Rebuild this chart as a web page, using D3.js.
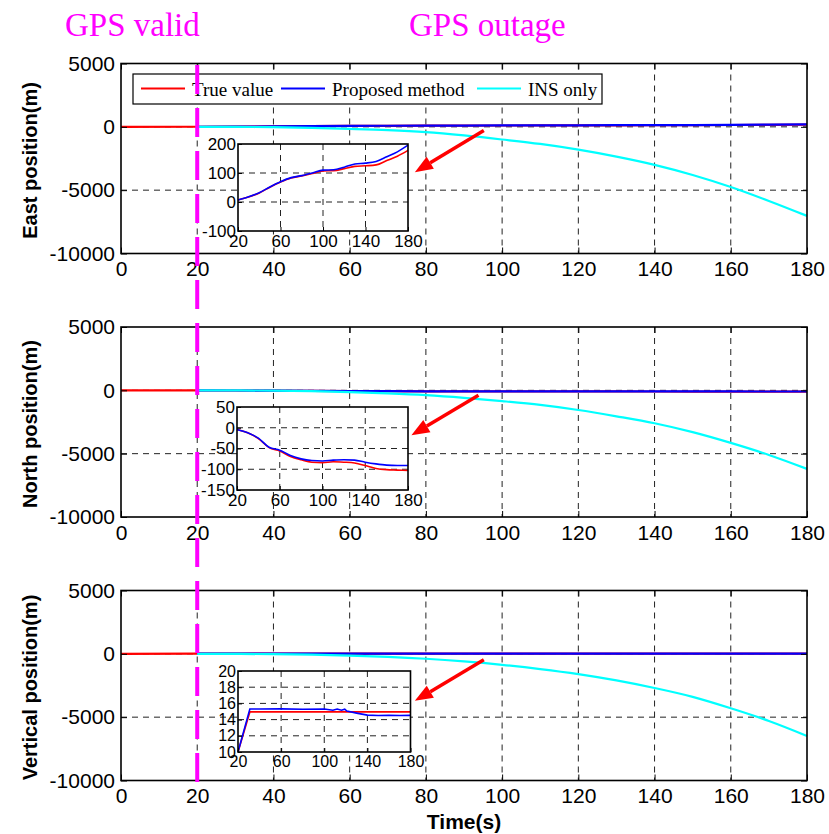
<!DOCTYPE html>
<html>
<head>
<meta charset="utf-8">
<script src="https://cdn.jsdelivr.net/npm/d3@7"></script>
<style>
  html, body { margin: 0; padding: 0; background: #fff; }
  svg { display: block; }
</style>
</head>
<body>
<svg id="chart" width="829" height="834"></svg>
<script>
// ---- data -------------------------------------------------------------
const mainTicksX = [0, 20, 40, 60, 80, 100, 120, 140, 160, 180];
const mainTicksY = [5000, 0, -5000, -10000];
const insetTicksX = [20, 60, 100, 140, 180];

// Time grid (s) during the GPS outage
const tOutage = [20, 30, 40, 50, 60, 70, 80, 90, 100, 110, 120, 130, 140, 150, 160, 170, 180];

// East position (m)
const eastTrue     = [7, 17, 31, 51, 69, 83, 90, 98, 107, 108, 115, 123, 125, 128, 143, 158, 178];
const eastProposed = [7, 18, 32, 52, 70, 84, 91, 100, 110, 111, 120, 131, 134, 140, 156, 173, 196];
const eastINS      = [0, -5, -30, -80, -160, -260, -420, -680, -1000, -1350, -1800, -2350, -3000, -3800, -4750, -5850, -7030];

// North position (m)
const northTrue     = [-4, -12, -26, -48, -56, -69, -77, -83, -84, -82, -83, -85, -91, -98, -101, -102, -103];
const northProposed = [-4, -12, -25, -47, -54, -67, -75, -79, -80, -78, -77, -78, -83, -87, -90, -91, -91];
const northINS      = [0, -5, -25, -70, -140, -240, -380, -590, -850, -1150, -1550, -2050, -2600, -3300, -4150, -5100, -6200];

// Vertical position (m)
const tVertical        = [20, 31, 40, 60, 80, 100, 108, 112, 116, 119, 121, 130, 140, 150, 160, 170, 180];
const verticalTrue     = [10, 14.95, 14.95, 14.95, 14.95, 14.95, 14.95, 14.95, 14.95, 14.95, 14.95, 14.95, 14.95, 14.95, 14.95, 14.95, 14.95];
const verticalProposed = [10, 15.3, 15.3, 15.32, 15.28, 15.3, 15.15, 15.3, 15.15, 15.28, 15.05, 14.8, 14.55, 14.5, 14.52, 14.5, 14.52];
const verticalINS      = [0, -5, -25, -70, -140, -240, -390, -600, -870, -1200, -1600, -2100, -2700, -3400, -4300, -5300, -6480];

// Legend entries
const legendLabels = ["True value", "Proposed method", "INS only"];
const legendColors = ["#ff0000", "#0000ff", "#00ffff"];

// Panel definitions
const panels = [
  { label: "East position(m)", tTrue: tOutage, trueV: eastTrue, propV: eastProposed, ins: eastINS,
    inset: { domain: [-100, 200], ticks: [200, 100, 0, -100], grid: [100, 0], font: 17 },
    arrow: { from: [95.2, -292], to: [77.1, -3577] } },
  { label: "North position(m)", tTrue: tOutage, trueV: northTrue, propV: northProposed, ins: northINS,
    inset: { domain: [-150, 50], ticks: [50, 0, -50, -100, -150], grid: [0, -50, -100], font: 17 },
    arrow: { from: [93.8, -395], to: [76.2, -3553] } },
  { label: "Vertical position(m)", tTrue: tVertical, trueV: verticalTrue, propV: verticalProposed, ins: verticalINS,
    inset: { domain: [10, 20], ticks: [20, 18, 16, 14, 12, 10], grid: [18, 16, 14, 12], font: 16 },
    arrow: { from: [95.2, -474], to: [77.1, -3711] }, linear: true }
];

// ---- layout -----------------------------------------------------------
const svg = d3.select("#chart");
const sans = "Arial, 'Liberation Sans', Helvetica, sans-serif";
const serif = "'Times New Roman', 'Liberation Serif', Times, serif";
const magenta = "#ff00ff";
const plain = d => String(d);   // hyphen-minus labels

const plotLeft = 121, plotRight = 807;
const panelBoxes = [
  { top: 63.5, bottom: 253.5 },
  { top: 327, bottom: 517 },
  { top: 590.5, bottom: 780.5 }
];
const insetBoxes = [
  { left: 238, right: 408, top: 144, bottom: 231 },
  { left: 237, right: 408, top: 407, bottom: 490 },
  { left: 238, right: 410.5, top: 671, bottom: 752 }
];

const x = d3.scaleLinear().domain([0, 180]).range([plotLeft, plotRight]);

panels.forEach((p, i) => {
  const box = panelBoxes[i];
  const y = d3.scaleLinear().domain([-10000, 5000]).range([box.bottom, box.top]);
  const g = svg.append("g");

  // grid
  g.selectAll(".gx").data(mainTicksX.filter(d => d > 0 && d < 180)).join("line")
    .attr("x1", d => x(d)).attr("x2", d => x(d))
    .attr("y1", box.top).attr("y2", box.bottom)
    .attr("stroke", "#222").attr("stroke-width", 1).attr("stroke-dasharray", "6,5");
  g.selectAll(".gy").data([0, -5000]).join("line")
    .attr("x1", plotLeft).attr("x2", plotRight)
    .attr("y1", d => y(d)).attr("y2", d => y(d))
    .attr("stroke", "#222").attr("stroke-width", 1).attr("stroke-dasharray", "6,5");

  // series
  const line = d3.line().x(d => x(d[0])).y(d => y(d[1]));
  const trueSeries = [[0, 0]].concat(p.tTrue.map((t, k) => [t, p.trueV[k]]));
  const propSeries = p.tTrue.map((t, k) => [t, p.propV[k]]);
  const insSeries = tOutage.map((t, k) => [t, p.ins[k]]);
  g.append("path").datum(trueSeries).attr("d", line)
    .attr("fill", "none").attr("stroke", legendColors[0]).attr("stroke-width", 2.2);
  g.append("path").datum(propSeries).attr("d", line)
    .attr("fill", "none").attr("stroke", legendColors[1]).attr("stroke-width", 2.2);
  g.append("path").datum(insSeries).attr("d", line.curve(d3.curveMonotoneX))
    .attr("fill", "none").attr("stroke", legendColors[2]).attr("stroke-width", 2.2);

  // axes (inward ticks, Matlab style)
  const ax = g.append("g").attr("transform", `translate(0,${box.bottom})`)
    .call(d3.axisBottom(x).tickValues(mainTicksX).tickSize(-6).tickPadding(8).tickFormat(plain));
  const ay = g.append("g").attr("transform", `translate(${plotLeft},0)`)
    .call(d3.axisLeft(y).tickValues(mainTicksY).tickSize(-6).tickPadding(6).tickFormat(plain));
  const axTop = g.append("g").attr("transform", `translate(0,${box.top})`)
    .call(d3.axisTop(x).tickValues(mainTicksX).tickSize(-6).tickFormat(""));
  const ayRight = g.append("g").attr("transform", `translate(${plotRight},0)`)
    .call(d3.axisRight(y).tickValues(mainTicksY).tickSize(-6).tickFormat(""));
  [ax, ay, axTop, ayRight].forEach(a => {
    a.select(".domain").remove();
    a.selectAll(".tick line").attr("stroke", "#000").attr("stroke-width", 1);
    a.selectAll("text").attr("font-family", sans).attr("font-size", 21).attr("fill", "#000");
  });

  // frame
  g.append("rect").attr("x", plotLeft).attr("y", box.top)
    .attr("width", plotRight - plotLeft).attr("height", box.bottom - box.top)
    .attr("fill", "none").attr("stroke", "#000").attr("stroke-width", 1.6);

  // y label
  const cy = (box.top + box.bottom) / 2 + 2;
  g.append("text").text(p.label)
    .attr("transform", `translate(37,${cy}) rotate(-90)`)
    .attr("text-anchor", "middle")
    .attr("font-family", sans).attr("font-weight", "bold").attr("font-size", 20)
    .attr("fill", "#000");

  // zoom inset
  const ib = insetBoxes[i];
  const ix = d3.scaleLinear().domain([20, 180]).range([ib.left, ib.right]);
  const iy = d3.scaleLinear().domain(p.inset.domain).range([ib.bottom, ib.top]);
  const ig = svg.append("g");
  ig.append("rect").attr("x", ib.left).attr("y", ib.top)
    .attr("width", ib.right - ib.left).attr("height", ib.bottom - ib.top).attr("fill", "#fff");
  ig.selectAll(".igx").data([60, 100, 140]).join("line")
    .attr("x1", d => ix(d)).attr("x2", d => ix(d)).attr("y1", ib.top).attr("y2", ib.bottom)
    .attr("stroke", "#222").attr("stroke-width", 1).attr("stroke-dasharray", "6,5");
  ig.selectAll(".igy").data(p.inset.grid).join("line")
    .attr("x1", ib.left).attr("x2", ib.right).attr("y1", d => iy(d)).attr("y2", d => iy(d))
    .attr("stroke", "#222").attr("stroke-width", 1).attr("stroke-dasharray", "6,5");
  const iline = d3.line().x(d => ix(d[0])).y(d => iy(d[1]))
    .curve(p.linear ? d3.curveLinear : d3.curveMonotoneX);
  ig.append("path").datum(p.tTrue.map((t, k) => [t, p.trueV[k]])).attr("d", iline)
    .attr("fill", "none").attr("stroke", legendColors[0]).attr("stroke-width", 1.6);
  ig.append("path").datum(p.tTrue.map((t, k) => [t, p.propV[k]])).attr("d", iline)
    .attr("fill", "none").attr("stroke", legendColors[1]).attr("stroke-width", 1.6);
  const iax = ig.append("g").attr("transform", `translate(0,${ib.bottom})`)
    .call(d3.axisBottom(ix).tickValues(insetTicksX).tickSize(-4).tickPadding(4).tickFormat(plain));
  const iay = ig.append("g").attr("transform", `translate(${ib.left},0)`)
    .call(d3.axisLeft(iy).tickValues(p.inset.ticks).tickSize(-4).tickPadding(2).tickFormat(plain));
  [iax, iay].forEach(a => {
    a.select(".domain").remove();
    a.selectAll(".tick line").attr("stroke", "#000");
    a.selectAll("text").attr("font-family", sans).attr("font-size", p.inset.font).attr("fill", "#000");
  });
  ig.append("rect").attr("x", ib.left).attr("y", ib.top)
    .attr("width", ib.right - ib.left).attr("height", ib.bottom - ib.top)
    .attr("fill", "none").attr("stroke", "#000").attr("stroke-width", 1.6);

  // arrow pointing at the inset
  const x1 = x(p.arrow.from[0]), y1 = y(p.arrow.from[1]);
  const x2 = x(p.arrow.to[0]), y2 = y(p.arrow.to[1]);
  const ang = Math.atan2(y2 - y1, x2 - x1);
  const headLen = 18, headHalf = 7;
  const bx = x2 - headLen * Math.cos(ang), by = y2 - headLen * Math.sin(ang);
  svg.append("line").attr("x1", x1).attr("y1", y1).attr("x2", bx).attr("y2", by)
    .attr("stroke", "#ff0000").attr("stroke-width", 3.5);
  svg.append("path")
    .attr("d", `M${x2},${y2} L${bx + headHalf * Math.sin(ang)},${by - headHalf * Math.cos(ang)} L${bx - headHalf * Math.sin(ang)},${by + headHalf * Math.cos(ang)} Z`)
    .attr("fill", "#ff0000");
});

// x label
svg.append("text").text("Time(s)")
  .attr("x", x(90)).attr("y", 829).attr("text-anchor", "middle")
  .attr("font-family", sans).attr("font-weight", "bold").attr("font-size", 21).attr("fill", "#000");

// legend
const lg = svg.append("g");
lg.append("rect").attr("x", 133).attr("y", 74).attr("width", 469).attr("height", 30)
  .attr("fill", "#fff").attr("stroke", "#000").attr("stroke-width", 1.2);
const legendX = [141, 281, 477];
legendLabels.forEach((lab, k) => {
  lg.append("line").attr("x1", legendX[k]).attr("x2", legendX[k] + 44)
    .attr("y1", 88.5).attr("y2", 88.5)
    .attr("stroke", legendColors[k]).attr("stroke-width", 2.2);
  lg.append("text").text(lab).attr("x", legendX[k] + 51).attr("y", 96)
    .attr("font-family", serif).attr("font-size", 19).attr("fill", "#000");
});

// GPS phase annotations
svg.append("line").attr("x1", x(20)).attr("x2", x(20)).attr("y1", 65).attr("y2", 786)
  .attr("stroke", magenta).attr("stroke-width", 4).attr("stroke-dasharray", "29,14");
svg.append("text").text("GPS valid").attr("x", 65).attr("y", 36)
  .attr("font-family", serif).attr("font-size", 33).attr("fill", magenta);
svg.append("text").text("GPS outage").attr("x", 409).attr("y", 36)
  .attr("font-family", serif).attr("font-size", 33).attr("fill", magenta);
</script>
</body>
</html>
